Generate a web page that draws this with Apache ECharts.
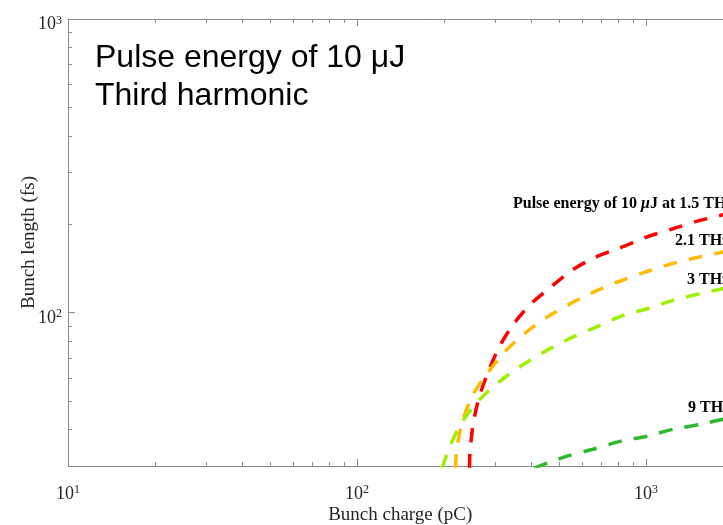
<!DOCTYPE html>
<html>
<head>
<meta charset="utf-8">
<title>Bunch length vs bunch charge</title>
<script src="https://cdn.jsdelivr.net/npm/echarts@6/dist/echarts.min.js"></script>
<style>
  html, body { margin: 0; padding: 0; background: #ffffff; overflow: hidden; }
  #chart { width: 800px; height: 525px; }
</style>
</head>
<body>
<div id="chart"></div>
<script>
// Bunch charge (pC) and bunch length (fs) for each THz frequency
const charge15 = [245, 246, 252, 264, 284, 310, 347, 400, 473, 559, 666, 813, 1008, 1240, 1538, 1804, 1950];
const length15 = [29.5, 33.4, 41.3, 51.0, 62.5, 76.0, 91.0, 107, 123, 140, 154, 166, 181, 193, 206, 214, 219];

const charge21 = [219, 222, 233, 252, 284, 328, 384, 458, 555, 666, 813, 1008, 1240, 1502, 1804, 1950];
const length21 = [29.5, 35.0, 43.3, 52.6, 62.5, 74.2, 85.5, 96.9, 108, 118, 128, 138, 147, 154, 160, 163];

const charge3 = [197, 211, 233, 266, 312, 372, 447, 546, 666, 813, 1008, 1240, 1538, 1804, 1950];
const length3 = [29.5, 35.6, 42.9, 50.6, 58.3, 66.0, 73.7, 81.6, 88.9, 96.9, 103, 110, 116, 120, 122];

const charge9 = [410, 533, 655, 813, 1008, 1240, 1538, 1850, 1950];
const length9 = [29.5, 32.4, 34.2, 36.4, 37.9, 40.0, 41.6, 43.3, 43.8];

// Axis ranges and tick values
const xRange = [10, 3162.3];
const yRange = [30, 1000];
const xMajor = [10, 100, 1000];
const yMajor = [100, 1000];
const xMinor = [20, 30, 40, 50, 60, 70, 80, 90, 200, 300, 400, 500, 600, 700, 800, 900, 2000, 3000];
const yMinor = [40, 50, 60, 70, 80, 90, 200, 300, 400, 500, 600, 700, 800, 900];

const AXIS_COLOR = '#8a8a8a';
const TEXT_COLOR = '#262626';
const SERIF = '"Liberation Serif", "Times New Roman", serif';

const powRich = {
  b: { fontFamily: SERIF, fontSize: 18, color: TEXT_COLOR, verticalAlign: 'bottom' },
  s: { fontFamily: SERIF, fontSize: 12, color: TEXT_COLOR, verticalAlign: 'top', padding: [0, 0, 7, 0] }
};
function powLabel(v, majors) {
  const hit = majors.find(m => Math.abs(m - v) / m < 1e-6);
  if (hit === undefined) return '';
  return '{b|10}{s|' + Math.round(Math.log10(hit)) + '}';
}

function curve(name, xs, ys, color) {
  return {
    name: name,
    type: 'line',
    xAxisIndex: 0,
    yAxisIndex: 0,
    data: xs.map((x, i) => [x, ys[i]]),
    showSymbol: false,
    smooth: 0.3,
    clip: true,
    silent: true,
    lineStyle: { color: color, width: 3.5, type: [14, 12], cap: 'butt' },
    z: 3
  };
}

const baseAxis = {
  type: 'log',
  logBase: 10,
  nameMoveOverlap: false,
  axisLine: { show: true, onZero: false, lineStyle: { color: AXIS_COLOR, width: 1 } },
  axisTick: { show: true, inside: true, length: 7, lineStyle: { color: AXIS_COLOR, width: 1 } },
  splitLine: { show: false },
  minorTick: { show: false }
};

const chart = echarts.init(document.getElementById('chart'), null, { renderer: 'canvas' });

chart.setOption({
  animation: false,
  backgroundColor: '#ffffff',
  grid: { left: 68, right: 9.5, top: 19, bottom: 59, outerBoundsMode: 'none', containLabel: false },
  xAxis: [
    Object.assign({}, baseAxis, {
      position: 'bottom',
      min: xRange[0], max: xRange[1],
      name: 'Bunch charge (pC)',
      nameLocation: 'middle',
      nameGap: 40,
      // the plot runs past the visible edge, so the title is nudged back to the visible centre
      nameTextStyle: { fontFamily: SERIF, fontSize: 19, color: TEXT_COLOR, padding: [0, 58, 0, 0] },
      axisLabel: { margin: 18, formatter: v => powLabel(v, xMajor), rich: powRich }
    }),
    Object.assign({}, baseAxis, {
      position: 'top',
      min: xRange[0], max: xRange[1],
      axisLabel: { show: false }
    })
  ],
  yAxis: [
    Object.assign({}, baseAxis, {
      position: 'left',
      min: yRange[0], max: yRange[1],
      name: 'Bunch length (fs)',
      nameLocation: 'middle',
      nameGap: 29,
      nameRotate: 90,
      nameTextStyle: { fontFamily: SERIF, fontSize: 19, color: TEXT_COLOR },
      axisLabel: { margin: 6, formatter: v => powLabel(v, yMajor), rich: powRich, padding: [10, 0, 0, 0] }
    })
  ],
  series: [
    curve('1.5 THz', charge15, length15, '#ff0000'),
    curve('2.1 THz', charge21, length21, '#ffbb00'),
    curve('3 THz', charge3, length3, '#9ff000'),
    curve('9 THz', charge9, length9, '#2fb82f')
  ]
});

// Minor ticks (log spaced) on the bottom, top and left frame lines
const px = v => chart.convertToPixel({ xAxisIndex: 0 }, v);
const py = v => chart.convertToPixel({ yAxisIndex: 0 }, v);
const xLeft = px(xRange[0]);
const yBottom = py(yRange[0]);
const yTop = py(yRange[1]);
const MINOR = 4;

const graphics = [];
xMinor.forEach(v => {
  const x = Math.round(px(v)) + 0.5;
  graphics.push({ type: 'line', silent: true, shape: { x1: x, y1: yBottom, x2: x, y2: yBottom - MINOR }, style: { stroke: AXIS_COLOR, lineWidth: 1 } });
  graphics.push({ type: 'line', silent: true, shape: { x1: x, y1: yTop, x2: x, y2: yTop + MINOR }, style: { stroke: AXIS_COLOR, lineWidth: 1 } });
});
yMinor.forEach(v => {
  const y = Math.round(py(v)) + 0.5;
  graphics.push({ type: 'line', silent: true, shape: { x1: xLeft, y1: y, x2: xLeft + MINOR, y2: y }, style: { stroke: AXIS_COLOR, lineWidth: 1 } });
});

// Panel heading
graphics.push({
  type: 'text', silent: true, x: 95, y: 39,
  style: {
    text: 'Pulse energy of 10 μJ\nThird harmonic',
    fontFamily: '"Liberation Sans", Arial, sans-serif', fontSize: 32, lineHeight: 38,
    fill: '#000000', align: 'left', verticalAlign: 'top'
  }
});

// Curve labels
const labelRich = { i: { fontFamily: SERIF, fontSize: 16, fontWeight: 'bold', fontStyle: 'italic', fill: '#000000' } };
[
  { x: 513, y: 204, text: 'Pulse energy of 10 {i|μ}J at 1.5 THz' },
  { x: 675, y: 241, text: '2.1 THz' },
  { x: 687, y: 280, text: '3 THz' },
  { x: 688, y: 408, text: '9 THz' }
].forEach(l => {
  graphics.push({
    type: 'text', silent: true, x: l.x, y: l.y, z: 10,
    style: {
      text: l.text, rich: labelRich,
      fontFamily: SERIF, fontSize: 16, fontWeight: 'bold',
      fill: '#000000', align: 'left', verticalAlign: 'middle'
    }
  });
});

chart.setOption({ graphic: graphics });
</script>
</body>
</html>
